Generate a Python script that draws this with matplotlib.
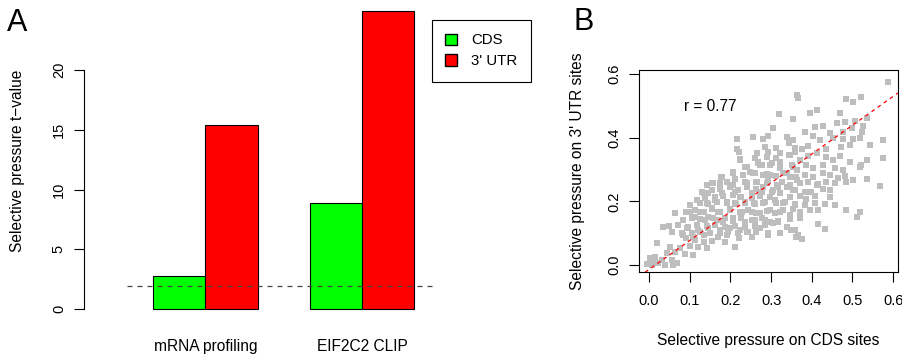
import matplotlib
matplotlib.use('Agg')
import matplotlib.pyplot as plt
from matplotlib.patches import Patch
from matplotlib.ticker import FormatStrFormatter
import numpy as np

plt.rcParams['font.family'] = ['Liberation Sans', 'DejaVu Sans']

# panel A: t-values per data set
groups = ['mRNA profiling', 'EIF2C2 CLIP']
cds_t = [2.8, 8.85]
utr_t = [15.4, 24.9]
threshold = 1.96

# panel B: selective pressure per miRNA family
cds_sites = [
    0.588, 0.522, 0.502, 0.484, 0.363, 0.365, 0.412, 0.395, 0.319, 0.469,
    0.535, 0.506, 0.481, 0.461, 0.354, 0.305, 0.383, 0.408, 0.428, 0.446,
    0.476, 0.498, 0.527, 0.523, 0.217, 0.256, 0.281, 0.293, 0.338, 0.354,
    0.404, 0.420, 0.453, 0.476, 0.502, 0.518, 0.574, 0.217, 0.285, 0.313,
    0.345, 0.360, 0.375, 0.391, 0.436, 0.471, 0.494, 0.544, 0.293, 0.260,
    0.224, 0.268, 0.313, 0.347, 0.371, 0.391, 0.412, 0.436, 0.453, 0.469,
    0.494, 0.522, 0.535, 0.576, 0.240, 0.277, 0.297, 0.322, 0.354, 0.387,
    0.404, 0.428, 0.456, 0.477, 0.518, 0.207, 0.232, 0.256, 0.289, 0.313,
    0.338, 0.361, 0.383, 0.404, 0.428, 0.444, 0.464, 0.481, 0.502, 0.535,
    0.178, 0.191, 0.211, 0.236, 0.264, 0.293, 0.326, 0.346, 0.371, 0.391,
    0.416, 0.436, 0.456, 0.485, 0.567, 0.142, 0.158, 0.134, 0.156, 0.175,
    0.199, 0.219, 0.240, 0.264, 0.281, 0.305, 0.317, 0.354, 0.383, 0.399,
    0.412, 0.428, 0.444, 0.138, 0.162, 0.183, 0.207, 0.227, 0.252, 0.273,
    0.297, 0.322, 0.346, 0.371, 0.387, 0.408, 0.444, 0.101, 0.125, 0.146,
    0.166, 0.191, 0.215, 0.236, 0.260, 0.285, 0.313, 0.334, 0.358, 0.383,
    0.408, 0.432, 0.456, 0.064, 0.092, 0.113, 0.134, 0.154, 0.175, 0.199,
    0.224, 0.244, 0.264, 0.289, 0.309, 0.330, 0.354, 0.371, 0.395, 0.416,
    0.485, 0.518, 0.084, 0.105, 0.125, 0.146, 0.166, 0.187, 0.207, 0.227,
    0.252, 0.277, 0.297, 0.317, 0.346, 0.371, 0.510, 0.035, 0.048, 0.072,
    0.097, 0.117, 0.142, 0.162, 0.187, 0.211, 0.236, 0.260, 0.285, 0.305,
    0.416, 0.432, 0.056, 0.080, 0.105, 0.125, 0.150, 0.175, 0.195, 0.219,
    0.240, 0.264, 0.293, 0.350, 0.366, 0.092, 0.113, 0.134, 0.154, 0.187,
    0.211, 0.362, 0.377, 0.019, 0.052, 0.076, 0.101, 0.121, 0.142, 0.043,
    0.064, 0.088, 0.109, 0.002, 0.015, 0.031, 0.056, -0.006, 0.007, 0.023,
    0.039, 0.060, 0.068, 0.011,
    0.220, 0.265, 0.289, 0.322, 0.343, 0.359, 0.224, 0.269, 0.236, 0.273,
    0.302, 0.322, 0.351, 0.363, 0.207, 0.248, 0.261, 0.281, 0.298, 0.330,
    0.347, 0.363, 0.179, 0.154, 0.175, 0.207, 0.240, 0.265, 0.289, 0.314,
    0.339, 0.359, 0.130, 0.146, 0.179, 0.211, 0.224, 0.252, 0.277, 0.302,
    0.322, 0.347, 0.117, 0.142, 0.162, 0.191, 0.211, 0.236, 0.257, 0.281,
    0.310, 0.330, 0.359, 0.101, 0.125, 0.154, 0.170, 0.199, 0.228, 0.252,
    0.273, 0.298, 0.322, 0.347, 0.084, 0.113, 0.138, 0.158, 0.183, 0.207,
    0.236, 0.261, 0.285, 0.318, 0.339, 0.093, 0.121, 0.146, 0.175, 0.199,
    0.224, 0.244, 0.273, 0.293, 0.322, 0.359, 0.084, 0.109, 0.134, 0.170,
    0.191, 0.220, 0.252, 0.363,
]
utr_sites = [
    0.576, 0.529, 0.513, 0.520, 0.534, 0.526, 0.487, 0.479, 0.473, 0.479,
    0.461, 0.453, 0.450, 0.445, 0.458, 0.431, 0.419, 0.432, 0.437, 0.416,
    0.419, 0.431, 0.437, 0.419, 0.395, 0.401, 0.395, 0.405, 0.401, 0.393,
    0.405, 0.393, 0.398, 0.395, 0.395, 0.398, 0.393, 0.365, 0.370, 0.366,
    0.382, 0.366, 0.363, 0.374, 0.363, 0.370, 0.377, 0.377, 0.356, 0.335,
    0.332, 0.319, 0.335, 0.346, 0.330, 0.342, 0.351, 0.340, 0.330, 0.342,
    0.325, 0.314, 0.330, 0.335, 0.309, 0.314, 0.314, 0.304, 0.309, 0.314,
    0.304, 0.314, 0.304, 0.298, 0.309, 0.288, 0.283, 0.290, 0.286, 0.280,
    0.288, 0.277, 0.283, 0.277, 0.288, 0.283, 0.272, 0.280, 0.267, 0.269,
    0.277, 0.262, 0.269, 0.262, 0.262, 0.267, 0.262, 0.251, 0.257, 0.262,
    0.254, 0.262, 0.257, 0.262, 0.248, 0.251, 0.259, 0.227, 0.236, 0.238,
    0.244, 0.236, 0.244, 0.238, 0.246, 0.236, 0.244, 0.236, 0.230, 0.230,
    0.251, 0.238, 0.236, 0.209, 0.215, 0.217, 0.220, 0.215, 0.209, 0.217,
    0.215, 0.225, 0.215, 0.217, 0.206, 0.217, 0.215, 0.188, 0.194, 0.192,
    0.199, 0.194, 0.192, 0.196, 0.192, 0.199, 0.194, 0.199, 0.192, 0.188,
    0.194, 0.192, 0.188, 0.162, 0.168, 0.173, 0.168, 0.175, 0.168, 0.175,
    0.168, 0.173, 0.164, 0.171, 0.164, 0.173, 0.175, 0.168, 0.173, 0.173,
    0.173, 0.168, 0.141, 0.147, 0.143, 0.150, 0.141, 0.147, 0.139, 0.147,
    0.141, 0.147, 0.136, 0.139, 0.143, 0.147, 0.150, 0.120, 0.123, 0.126,
    0.120, 0.126, 0.123, 0.126, 0.120, 0.123, 0.120, 0.123, 0.126, 0.131,
    0.129, 0.112, 0.105, 0.099, 0.102, 0.105, 0.099, 0.102, 0.105, 0.099,
    0.105, 0.105, 0.094, 0.110, 0.094, 0.084, 0.079, 0.073, 0.076, 0.073,
    0.058, 0.089, 0.081, 0.068, 0.058, 0.052, 0.060, 0.058, 0.052, 0.037,
    0.042, 0.035, 0.031, 0.021, 0.026, 0.016, 0.016, 0.003, 0.000, 0.005,
    0.000, 0.000, 0.005, 0.010,
    0.356, 0.351, 0.340, 0.351, 0.346, 0.356, 0.330, 0.325, 0.309, 0.314,
    0.319, 0.325, 0.314, 0.298, 0.293, 0.293, 0.288, 0.283, 0.283, 0.288,
    0.278, 0.267, 0.278, 0.257, 0.257, 0.251, 0.257, 0.262, 0.257, 0.251,
    0.246, 0.236, 0.230, 0.225, 0.225, 0.230, 0.215, 0.225, 0.230, 0.230,
    0.225, 0.215, 0.204, 0.194, 0.204, 0.199, 0.194, 0.199, 0.194, 0.194,
    0.204, 0.194, 0.189, 0.168, 0.168, 0.178, 0.168, 0.173, 0.168, 0.168,
    0.162, 0.173, 0.168, 0.157, 0.141, 0.152, 0.141, 0.147, 0.136, 0.147,
    0.136, 0.141, 0.141, 0.136, 0.120, 0.115, 0.110, 0.115, 0.110, 0.115,
    0.110, 0.105, 0.115, 0.100, 0.100, 0.110, 0.094, 0.089, 0.094, 0.089,
    0.094, 0.084, 0.087, 0.089,
]
r_value = 0.77
fit_slope = 0.906
fit_intercept = -0.014

green = '#00FF00'
red = '#FF0000'
W, H = 903, 355
fig = plt.figure(figsize=(W / 100, H / 100), dpi=100)

# ---- A: bar chart
ax1 = fig.add_axes([84 / W, 34 / H, 356 / W, 321 / H])
cds_pos = np.array([1.5, 4.5])
ax1.bar(cds_pos, cds_t, width=1, color=green, edgecolor='black', linewidth=0.8)
ax1.bar(cds_pos + 1, utr_t, width=1, color=red, edgecolor='black', linewidth=0.8)
ax1.hlines(threshold, 0.5, 6.4, colors='#444444', linestyles=(0, (4, 4)), linewidth=0.9)
ax1.set_xlim(-0.319, 6.488)
ax1.set_ylim(-1.0, 25.86)
for s in ['top', 'right', 'bottom']:
    ax1.spines[s].set_visible(False)
ax1.spines['left'].set_bounds(0, 20)
ax1.spines['left'].set_linewidth(0.8)
ax1.set_yticks([0, 5, 10, 15, 20])
ax1.set_yticklabels(['0', '5', '10', '15', '20'], rotation=90, va='center')
ax1.tick_params(axis='y', direction='out', length=7, width=0.8, pad=6, labelsize=10.5)
ax1.set_xticks(cds_pos + 0.5)
ax1.set_xticklabels(groups)
ax1.tick_params(axis='x', length=0, pad=13, labelsize=11.2)
fig.text(18 / W, 1 - 161 / H, 'Selective pressure t\u2212value', rotation=90,
         ha='center', va='center', fontsize=11.2)

leg = fig.legend(handles=[Patch(facecolor=green, edgecolor='black', label='CDS'),
                          Patch(facecolor=red, edgecolor='black', label="3' UTR")],
                 loc='upper left', bbox_to_anchor=(432 / W, 1 - 20 / H), fontsize=10.8,
                 frameon=True, fancybox=False, framealpha=1, edgecolor='black',
                 handlelength=0.8, handleheight=0.8, handletextpad=0.9,
                 borderpad=0.9, labelspacing=0.45, borderaxespad=0)
leg.get_frame().set_linewidth(0.8)

# ---- B: scatter
ax2 = fig.add_axes([639 / W, 83 / H, 259 / W, 202 / H])
ax2.scatter(cds_sites, utr_sites, marker='s', s=21, color='#BEBEBE', linewidths=0)
ax2.set_xlim(-0.0246, 0.612)
ax2.set_ylim(-0.022, 0.6126)
xs = np.array(ax2.get_xlim())
ax2.plot(xs, fit_intercept + fit_slope * xs, color=red, linestyle=(0, (3, 3)), linewidth=0.9)
ax2.text(0.15, 0.497, 'r = %.2f' % r_value, ha='center', va='center', fontsize=11.2)
ax2.set_xticks(np.arange(0, 0.61, 0.1))
ax2.set_yticks([0, 0.2, 0.4, 0.6])
ax2.xaxis.set_major_formatter(FormatStrFormatter('%.1f'))
ax2.yaxis.set_major_formatter(FormatStrFormatter('%.1f'))
for lab in ax2.get_yticklabels():
    lab.set_rotation(90)
    lab.set_va('center')
ax2.tick_params(direction='out', length=7, width=0.8, labelsize=10.5)
ax2.tick_params(axis='x', pad=9)
ax2.tick_params(axis='y', pad=6)
for s in ax2.spines.values():
    s.set_linewidth(0.8)
fig.text(768 / W, 1 - 340 / H, 'Selective pressure on CDS sites',
         ha='center', va='center', fontsize=11.2)
fig.text(578 / W, 1 - 171 / H, "Selective pressure on 3' UTR sites", rotation=90,
         ha='center', va='center', fontsize=11.2)

fig.text(7 / W, 1 - 8 / H, 'A', ha='left', va='top', fontsize=22)
fig.text(573 / W, 1 - 7 / H, 'B', ha='left', va='top', fontsize=22)

fig.savefig('out.png', dpi=100)
